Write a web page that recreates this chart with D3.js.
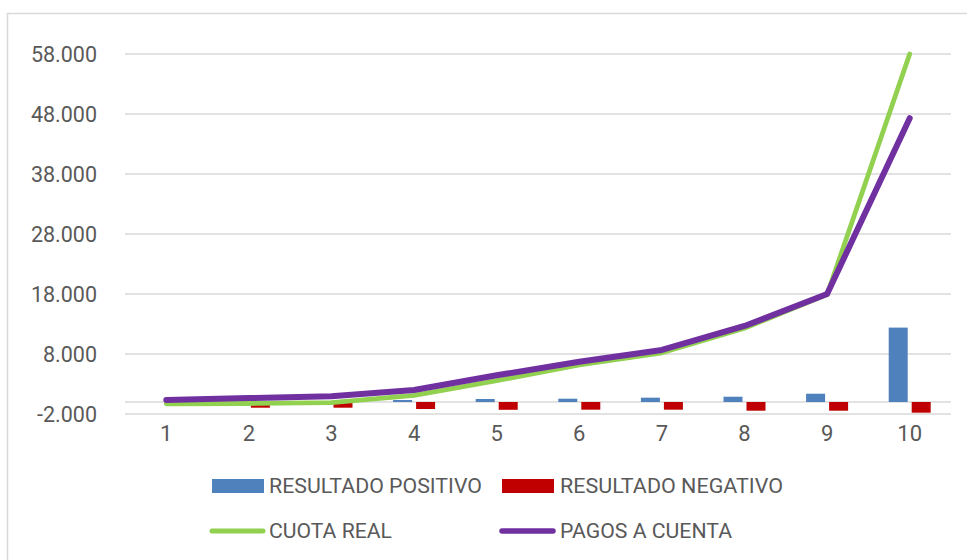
<!DOCTYPE html>
<html>
<head>
<meta charset="utf-8">
<script src="https://cdn.jsdelivr.net/npm/d3@7"></script>
<style>
  html, body { margin: 0; padding: 0; background: #ffffff; }
  svg { display: block; }
  text { font-family: Roboto, "Liberation Sans", sans-serif; fill: #595959; }
</style>
</head>
<body>
<svg id="chart" width="967" height="560"></svg>
<script>
const categories = ["1", "2", "3", "4", "5", "6", "7", "8", "9", "10"];
const resultadoPositivo = [0, 0, 0, 330, 500, 550, 720, 880, 1380, 12400];
const resultadoNegativo = [0, -950, -950, -1170, -1300, -1280, -1280, -1450, -1450, -1780];
const cuotaReal = [-300, -250, -100, 1100, 3550, 6170, 8200, 12300, 17900, 58000];
const pagosACuenta = [350, 650, 950, 2000, 4450, 6700, 8670, 12670, 18000, 47300];
const yTickValues = [-2000, 8000, 18000, 28000, 38000, 48000, 58000];
const seriesNames = ["RESULTADO POSITIVO", "RESULTADO NEGATIVO", "CUOTA REAL", "PAGOS A CUENTA"];
const seriesColors = ["#4f81bd", "#c00000", "#92d050", "#7030a0"];

const svg = d3.select("#chart");

// outer chart border
svg.append("rect")
  .attr("x", 7.5).attr("y", 13.5)
  .attr("width", 1000).attr("height", 600)
  .attr("fill", "none").attr("stroke", "#d9d9d9").attr("stroke-width", 1.5);

const plotLeft = 125, plotRight = 951;
const x = d3.scaleBand().domain(categories).range([plotLeft, plotRight]).padding(0);
const y = d3.scaleLinear().domain([-2000, 58000]).range([414, 54]);

const locale = d3.formatLocale({ decimal: ",", thousands: ".", grouping: [3], currency: ["", ""], minus: "-" });
const fmt = locale.format(",.0f");

// gridlines
svg.append("g").selectAll("line").data(yTickValues).join("line")
  .attr("x1", plotLeft).attr("x2", plotRight)
  .attr("y1", d => y(d)).attr("y2", d => y(d))
  .attr("stroke", "#d9d9d9").attr("stroke-width", 1.3);

// zero (category axis) line
svg.append("line")
  .attr("x1", plotLeft).attr("x2", plotRight)
  .attr("y1", y(0)).attr("y2", y(0))
  .attr("stroke", "#d9d9d9").attr("stroke-width", 1.3);

// y axis labels
const yAxis = d3.axisLeft(y).tickValues(yTickValues).tickFormat(fmt).tickSize(0).tickPadding(0);
const gy = svg.append("g").attr("transform", "translate(97,0)").call(yAxis);
gy.select(".domain").remove();
gy.selectAll("text")
  .attr("font-family", "Roboto, sans-serif")
  .attr("font-size", 21.5)
  .attr("fill", "#595959")
  .attr("dy", null)
  .attr("dominant-baseline", "central");

// x axis labels
const xAxis = d3.axisBottom(x).tickSize(0).tickPadding(0);
const gx = svg.append("g").attr("transform", "translate(0,441)").call(xAxis);
gx.select(".domain").remove();
gx.selectAll("text")
  .attr("font-family", "Roboto, sans-serif")
  .attr("font-size", 22)
  .attr("fill", "#595959")
  .attr("y", 0)
  .attr("dy", null);

// bars
const barW = 19;
const center = c => x(c) + x.bandwidth() / 2;
svg.append("g").selectAll("rect").data(categories).join("rect")
  .attr("x", (c) => center(c) - 2 - barW)
  .attr("width", barW)
  .attr("y", (c, i) => y(Math.max(0, resultadoPositivo[i])))
  .attr("height", (c, i) => Math.abs(y(resultadoPositivo[i]) - y(0)))
  .attr("fill", seriesColors[0]);

svg.append("g").selectAll("rect").data(categories).join("rect")
  .attr("x", (c) => center(c) + 2)
  .attr("width", barW)
  .attr("y", (c, i) => y(Math.max(0, resultadoNegativo[i])))
  .attr("height", (c, i) => Math.abs(y(resultadoNegativo[i]) - y(0)))
  .attr("fill", seriesColors[1]);

// lines
const lineGen = d3.line().x((d, i) => center(categories[i])).y(d => y(d));
svg.append("path").datum(cuotaReal)
  .attr("d", lineGen).attr("fill", "none")
  .attr("stroke", seriesColors[2]).attr("stroke-width", 4.8)
  .attr("stroke-linecap", "round").attr("stroke-linejoin", "round");
svg.append("path").datum(pagosACuenta)
  .attr("d", lineGen).attr("fill", "none")
  .attr("stroke", seriesColors[3]).attr("stroke-width", 6)
  .attr("stroke-linecap", "round").attr("stroke-linejoin", "round");

// legend
const legendItems = [
  { name: seriesNames[0], color: seriesColors[0], type: "rect", sx: 212, tx: 269, tw: 213, row: 0 },
  { name: seriesNames[1], color: seriesColors[1], type: "rect", sx: 502, tx: 560, tw: 223, row: 0 },
  { name: seriesNames[2], color: seriesColors[2], type: "line", sx: 212, tx: 269, tw: 123, row: 1, w: 5 },
  { name: seriesNames[3], color: seriesColors[3], type: "line", sx: 502, tx: 560, tw: 172, row: 1, w: 5.5 }
];
const rowY = [486, 531];
const lg = svg.append("g");
legendItems.forEach(it => {
  const cy = rowY[it.row];
  if (it.type === "rect") {
    lg.append("rect").attr("x", it.sx).attr("y", cy - 7).attr("width", 52).attr("height", 14).attr("fill", it.color);
  } else {
    lg.append("line").attr("x1", it.sx).attr("x2", it.sx + 51).attr("y1", cy).attr("y2", cy)
      .attr("stroke", it.color).attr("stroke-width", it.w).attr("stroke-linecap", "round");
  }
  lg.append("text").attr("x", it.tx).attr("y", cy + 7)
    .attr("font-size", 19.5).attr("fill", "#595959")
    .attr("textLength", it.tw).attr("lengthAdjust", "spacingAndGlyphs")
    .text(it.name);
});
</script>
</body>
</html>
